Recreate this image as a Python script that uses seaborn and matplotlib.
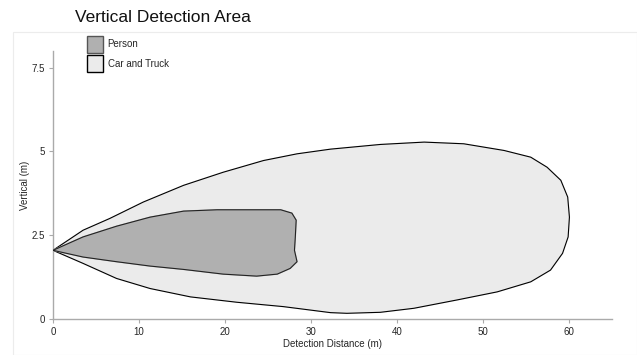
import numpy as np
import pandas as pd
import seaborn as sns
import matplotlib.pyplot as plt
from matplotlib.patches import Rectangle, Patch

# contornos (distancia em m, altura em m)
car_x = [0.0, 3.5, 6.6, 10.5, 15.2, 19.8, 24.5, 28.4, 32.3, 38.1, 43.2, 47.8, 52.5,
         55.6, 57.5, 59.1, 59.9, 60.1, 59.95, 59.3, 57.9, 55.6, 51.7, 47.05, 42.0,
         38.1, 34.2, 32.3, 26.8, 21.4, 16.0, 11.3, 7.4, 3.5, 0.0]
car_y = [2.05, 2.65, 3.0, 3.49, 3.99, 4.38, 4.73, 4.93, 5.07, 5.21, 5.28, 5.23, 5.03,
         4.83, 4.53, 4.14, 3.64, 3.04, 2.45, 1.96, 1.46, 1.11, 0.81, 0.57, 0.32,
         0.2, 0.17, 0.19, 0.37, 0.5, 0.66, 0.91, 1.21, 1.66, 2.05]

person_x = [0.0, 3.5, 7.4, 11.3, 15.2, 19.1, 23.0, 26.5, 27.8, 28.3, 28.2, 28.1,
            28.4, 27.6, 26.1, 23.7, 19.8, 15.2, 11.3, 7.4, 3.5, 0.0]
person_y = [2.05, 2.45, 2.77, 3.04, 3.22, 3.26, 3.26, 3.26, 3.16, 2.95, 2.45, 2.05,
            1.71, 1.51, 1.34, 1.28, 1.34, 1.48, 1.58, 1.71, 1.85, 2.05]

x_ticks = [0, 10, 20, 30, 40, 50, 60]
y_ticks = [0, 2.5, 5, 7.5]
y_tick_labels = ['0', '2.5', '5', '7.5']

sns.set_style('ticks')
plt.rcParams['font.family'] = ['Liberation Sans', 'DejaVu Sans']

fig = plt.figure(figsize=(6.37, 3.55), dpi=100)
ax = fig.add_axes([0.0832, 0.1014, 0.8768, 0.755])

# moldura clara em volta do painel
fig.patches.append(Rectangle((13 / 637, 0), 1 - 13 / 637, 1 - 32 / 355,
                             transform=fig.transFigure, fill=False,
                             edgecolor='#ececec', linewidth=0.8))

car = pd.DataFrame({'x': car_x, 'y': car_y})
person = pd.DataFrame({'x': person_x, 'y': person_y})

ax.fill(car['x'], car['y'], color='#ebebeb', zorder=1)
sns.lineplot(data=car, x='x', y='y', sort=False, estimator=None, color='black',
             linewidth=0.8, ax=ax, zorder=2)
ax.fill(person['x'], person['y'], color='#b0b0b0', zorder=3)
sns.lineplot(data=person, x='x', y='y', sort=False, estimator=None, color='#222222',
             linewidth=0.8, ax=ax, zorder=4)

ax.set_xlim(0, 65)
ax.set_ylim(0, 8)
ax.set_xticks(x_ticks)
ax.set_yticks(y_ticks)
ax.set_yticklabels(y_tick_labels)
ax.tick_params(labelsize=7, length=3, width=0.8, color='#aaaaaa', pad=3)
for s in ['top', 'right']:
    ax.spines[s].set_visible(False)
for s in ['left', 'bottom']:
    ax.spines[s].set_color('#aaaaaa')
    ax.spines[s].set_linewidth(1.0)

ax.set_xlabel('Detection Distance (m)', fontsize=7, labelpad=1)
ax.set_ylabel('Vertical (m)', fontsize=7, labelpad=0)
ax.yaxis.set_label_coords(-0.042, 0.5)

fig.text(75 / 637, 1 - 17 / 355, 'Vertical Detection Area', fontsize=12.5,
         va='center', ha='left', color='#111111')

handles = [Patch(facecolor='#b0b0b0', edgecolor='#555555', label='Person'),
           Patch(facecolor='#ebebeb', edgecolor='black', label='Car and Truck')]
fig.legend(handles=handles, loc='upper left', bbox_to_anchor=(78 / 637, 1 - 27 / 355),
           frameon=False, fontsize=7, handlelength=1.65, handleheight=2.3,
           handletextpad=0.5, labelspacing=0.25, borderpad=0.4)

plt.savefig('out.png', dpi=100)
